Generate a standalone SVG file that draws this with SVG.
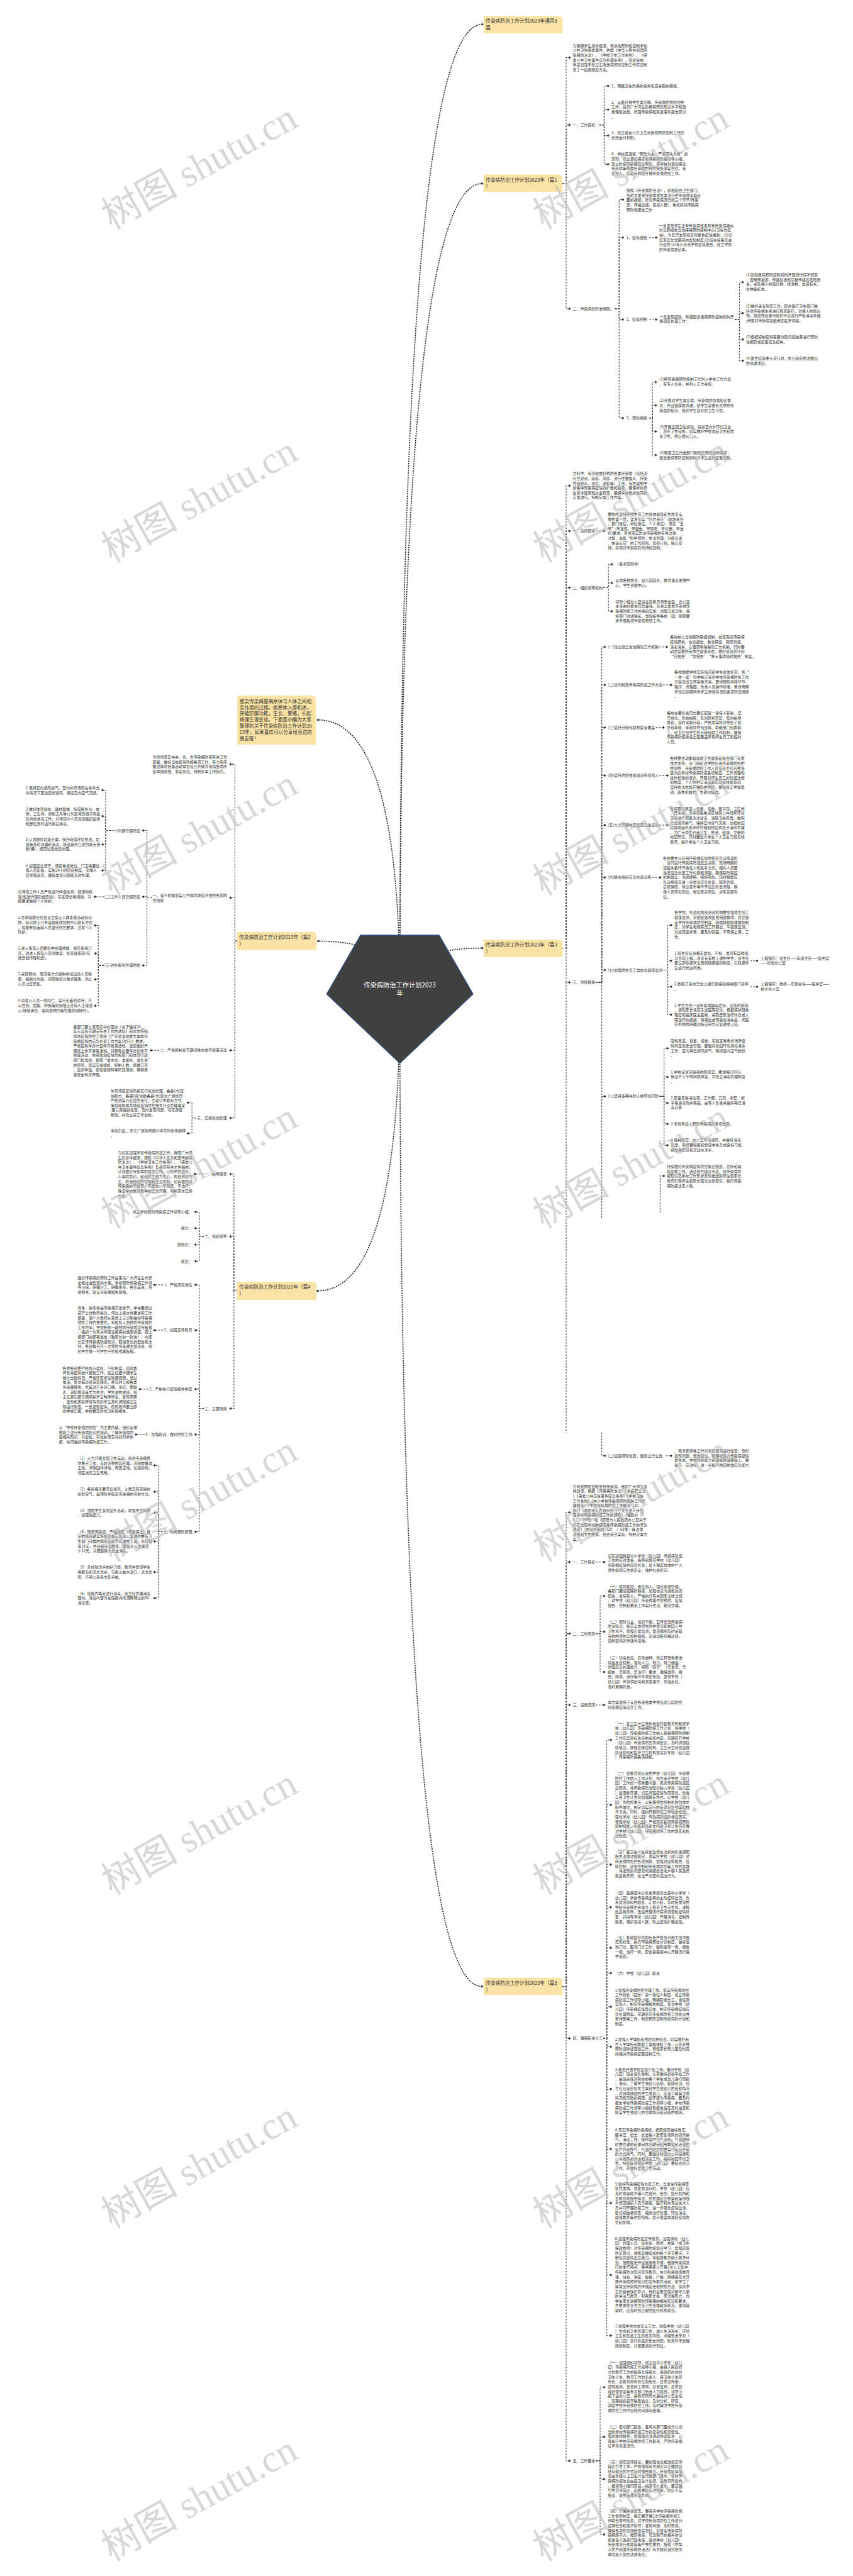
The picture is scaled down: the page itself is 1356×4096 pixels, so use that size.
<svg xmlns="http://www.w3.org/2000/svg" width="1356" height="4096" viewBox="0 0 1356 4096">
<defs>
<style>
text{font-family:"Noto Sans CJK SC","Liberation Sans",sans-serif;fill:#333;font-size:11.2px}
.lb{font-size:14.5px}
.sm{font-size:14.4px}
.ct{font-size:19.3px;fill:#fff;text-anchor:middle}
.e{text-anchor:end}
.c{fill:none;stroke:#333;stroke-width:2;stroke-dasharray:5 4}
.m{fill:none;stroke:#222;stroke-width:3;stroke-dasharray:4 3}
.box{fill:#FBE3A6}
.wm{font-family:"Liberation Serif","Noto Sans CJK SC",serif;font-size:115px;fill:#bdbdbd;fill-opacity:0.6}
</style>
<marker id="d" viewBox="-5 -5 10 10" markerWidth="9" markerHeight="9" markerUnits="userSpaceOnUse" orient="0"><path d="M-4.5 0L0 -4.5L4.5 0L0 4.5Z" fill="#333"/></marker>
</defs>
<rect width="1356" height="4096" fill="#fff"/>
<g transform="scale(0.5297)">
<g id="connectors" marker-end="url(#d)">
<path class="m" d="M1200 2990Q1200 73 1447 73"/>
<path class="m" d="M1200 2990Q1200 551 1447 551"/>
<path class="m" d="M1200 2990Q1200 2846 1447 2846"/>
<path class="m" d="M1200 2990Q1200 2161 954 2161"/>
<path class="m" d="M1200 2990Q1200 2825 955 2825"/>
<path class="m" d="M1200 2990Q1200 3875 953 3875"/>
<path class="m" d="M1200 2990Q1200 5963 1446 5963"/>
<path class="c" d="M1688 551H1699V173H1709"/>
<path class="c" d="M1688 551H1699V375H1709"/>
<path class="c" d="M1688 551H1699V927H1709"/>
<path class="c" d="M1799 375H1813V258H1825"/>
<path class="c" d="M1799 375H1813V329H1825"/>
<path class="c" d="M1799 375H1813V407H1825"/>
<path class="c" d="M1799 375H1813V493H1825"/>
<path class="c" d="M1846 927H1858V599H1869"/>
<path class="c" d="M1846 927H1858V713H1869"/>
<path class="c" d="M1846 927H1858V959H1869"/>
<path class="c" d="M1846 927H1858V1255H1869"/>
<path class="c" d="M1949 713H1969"/>
<path class="c" d="M1949 959H1969"/>
<path class="c" d="M2205 959H2219V847H2229"/>
<path class="c" d="M2205 959H2219V940H2229"/>
<path class="c" d="M2205 959H2219V1019H2229"/>
<path class="c" d="M2205 959H2219V1083H2229"/>
<path class="c" d="M1949 1255H1958V1147H1968"/>
<path class="c" d="M1949 1255H1958V1217H1968"/>
<path class="c" d="M1949 1255H1958V1295H1968"/>
<path class="c" d="M1949 1255H1958V1366H1968"/>
<path class="c" d="M1688 2846H1699V1458H1709"/>
<path class="c" d="M1688 2846H1699V1594H1709"/>
<path class="c" d="M1688 2846H1699V1764H1709"/>
<path class="c" d="M1688 2846H1699V2949H1709"/>
<path class="c" d="M1788 1594H1813"/>
<path class="c" d="M1811 1764H1826V1694H1836"/>
<path class="c" d="M1811 1764H1826V1750H1836"/>
<path class="c" d="M1811 1764H1826V1835H1836"/>
<path class="c" d="M1788 2949H1806V1942H1815"/>
<path class="c" d="M1788 2949H1806V2056H1815"/>
<path class="c" d="M1788 2949H1806V2184H1815"/>
<path class="c" d="M1788 2949H1806V2328H1815"/>
<path class="c" d="M1788 2949H1806V2477H1815"/>
<path class="c" d="M1788 2949H1806V2634H1815"/>
<path class="c" d="M1788 2949H1806V2912H1815"/>
<path class="c" d="M1788 2949H1806V3291H1815"/>
<path class="c" d="M1979 1942H2001"/>
<path class="c" d="M1990 2056H2014"/>
<path class="c" d="M1968 2184H1991"/>
<path class="c" d="M1979 2328H2003"/>
<path class="c" d="M1979 2477H2003"/>
<path class="c" d="M1957 2634H1981"/>
<path class="c" d="M1990 2912H2004V2777H2014"/>
<path class="c" d="M1990 2912H2004V2884H2014"/>
<path class="c" d="M1990 2912H2004V2962H2014"/>
<path class="c" d="M1990 2912H2004V3046H2014"/>
<path class="c" d="M2252 2884H2272"/>
<path class="c" d="M2252 2962H2272"/>
<path class="c" d="M1980 3291H1993V3147H2003"/>
<path class="c" d="M1980 3291H1993V3233H2003"/>
<path class="c" d="M1980 3291H1993V3311H2003"/>
<path class="c" d="M1980 3291H1993V3374H2003"/>
<path class="c" d="M1980 3291H1993V3438H2003"/>
<path class="c" d="M1981 3640V3530H1992"/>
<path class="c" d="M1806 4300V4370H1815"/>
<path class="c" d="M1999 4370H2014"/>
<path class="c" d="M1688 5963H1699V4540H1709"/>
<path class="c" d="M1688 5963H1699V4689H1709"/>
<path class="c" d="M1688 5963H1699V4904H1709"/>
<path class="c" d="M1688 5963H1699V5118H1709"/>
<path class="c" d="M1688 5963H1699V6119H1709"/>
<path class="c" d="M1688 5963H1699V7387H1709"/>
<path class="c" d="M1788 4689H1813"/>
<path class="c" d="M1788 5118H1813"/>
<path class="c" d="M1788 4904H1801V4791H1813"/>
<path class="c" d="M1788 4904H1801V4898H1813"/>
<path class="c" d="M1788 4904H1801V5019H1813"/>
<path class="c" d="M1811 6119H1821V5223H1833"/>
<path class="c" d="M1811 6119H1821V5418H1833"/>
<path class="c" d="M1811 6119H1821V5597H1833"/>
<path class="c" d="M1811 6119H1821V5725H1833"/>
<path class="c" d="M1811 6119H1821V5847H1833"/>
<path class="c" d="M1811 6119H1821V5923H1833"/>
<path class="c" d="M1811 6119H1821V6024H1833"/>
<path class="c" d="M1811 6119H1821V6144H1833"/>
<path class="c" d="M1811 6119H1821V6271H1833"/>
<path class="c" d="M1811 6119H1821V6451H1833"/>
<path class="c" d="M1811 6119H1821V6613H1833"/>
<path class="c" d="M1811 6119H1821V6829H1833"/>
<path class="c" d="M1811 6119H1821V7011H1833"/>
<path class="c" d="M1788 7387H1801V7166H1813"/>
<path class="c" d="M1788 7387H1801V7315H1813"/>
<path class="c" d="M1788 7387H1801V7442H1813"/>
<path class="c" d="M1788 7387H1801V7608H1813"/>
<path class="c" d="M711 2825H705V2294H692"/>
<path class="c" d="M711 2825H705V2695H692"/>
<path class="c" d="M711 2825H705V3153H692"/>
<path class="c" d="M711 2825H705V3356H692"/>
<path class="c" d="M456 2695H441V2493H430"/>
<path class="c" d="M456 2695H441V2692H430"/>
<path class="c" d="M456 2695H441V2898H430"/>
<path class="c" d="M333 2493H317V2372H308"/>
<path class="c" d="M333 2493H317V2450H308"/>
<path class="c" d="M333 2493H317V2535H308"/>
<path class="c" d="M333 2493H317V2613H308"/>
<path class="c" d="M311 2692H285"/>
<path class="c" d="M311 2898H295V2778H286"/>
<path class="c" d="M311 2898H295V2862H286"/>
<path class="c" d="M311 2898H295V2940H286"/>
<path class="c" d="M311 2898H295V3019H286"/>
<path class="c" d="M477 3153H453"/>
<path class="c" d="M589 3356H576V3310H564"/>
<path class="c" d="M589 3356H576V3402H564"/>
<path class="c" d="M711 3875H702V3524H692"/>
<path class="c" d="M711 3875H702V3712H692"/>
<path class="c" d="M711 3875H702V4228H692"/>
<path class="c" d="M611 3524H585"/>
<path class="c" d="M611 3712H598V3638H587"/>
<path class="c" d="M611 3712H598V3687H587"/>
<path class="c" d="M611 3712H598V3736H587"/>
<path class="c" d="M611 3712H598V3786H587"/>
<path class="c" d="M611 4228H598V3857H587"/>
<path class="c" d="M611 4228H598V3993H587"/>
<path class="c" d="M611 4228H598V4170H587"/>
<path class="c" d="M611 4228H598V4306H587"/>
<path class="c" d="M611 4228H598V4598H587"/>
<path class="c" d="M489 3857H464"/>
<path class="c" d="M489 3993H464"/>
<path class="c" d="M445 4170H420"/>
<path class="c" d="M434 4306H408"/>
<path class="c" d="M489 4598H475V4399H464"/>
<path class="c" d="M489 4598H475V4478H464"/>
<path class="c" d="M489 4598H475V4541H464"/>
<path class="c" d="M489 4598H475V4627H464"/>
<path class="c" d="M489 4598H475V4719H464"/>
<path class="c" d="M489 4598H475V4797H464"/>
</g>
<g id="trunks">
<path class="c" d="M1699 2949V4300"/>
<path class="c" d="M1806 3291V3660"/>
</g>
<g id="node-center">
<polygon points="1082,2807 1318,2807 1420,2984 1200,3192 980,2984" fill="#404040" stroke="#2E5597" stroke-width="2"/>
<text class="ct" x="1200" y="2964">传染病防治工作计划2023</text>
<text class="ct" x="1200" y="2989">年</text>
</g>
<g id="node-all">
<path class="box" d="M1451 48H1681L1688 55V100H1451Z"/>
<text class="lb" x="1458" y="68">传染病防治工作计划2023年通用5</text>
<text class="lb" x="1458" y="88">篇</text>
</g>
<g id="node-summary">
<path class="box" d="M712 2088H941L948 2095V2235H712Z"/>
<text class="sm" x="719" y="2110">感染传染病是病原体与人体之间相<tspan x="719" dy="18.6">互作用的过程。病原体入侵机体，</tspan><tspan x="719" dy="18.6">突破防御功能，生长、繁殖，引起</tspan><tspan x="719" dy="18.6">病理生理变化。下面是小编为大家</tspan><tspan x="719" dy="18.6">整理的关于传染病防治工作计划20</tspan><tspan x="719" dy="18.6">23年，如果喜欢可以分享给身边的</tspan><tspan x="719" dy="18.6">朋友喔！</tspan></text>
</g>
<g id="node-p1">
<path class="box" d="M1451 524H1681L1688 531V576H1451Z"/>
<text class="lb" x="1458" y="545">传染病防治工作计划2023年（篇1</text>
<text class="lb" x="1458" y="565">）</text>
<text x="1719" y="141">为确保学生身体健康，有效地预防和控制学校<tspan x="1719" dy="14.4">公共卫生突发事件，依据《中华人民共和国传</tspan><tspan x="1719" dy="14.4">染病防治法》、《学校卫生工作条例》、《突</tspan><tspan x="1719" dy="14.4">发公共卫生事件应急处理条例》，现就我校</tspan><tspan x="1719" dy="14.4">年度加强学校卫生及疾病预防控制工作意见制</tspan><tspan x="1719" dy="14.4">定了一些措施及方案。</tspan></text>
<text x="1719" y="379">一、工作目标：</text>
<text x="1835" y="262">1、明确卫生防病的任务和应采取的措施。</text>
<text x="1835" y="311">2、全面开展学生常见病、传染病的预防控制<tspan x="1835" dy="14.4">工作，提高广大师生的疾病预防知识水平和自</tspan><tspan x="1835" dy="14.4">我保健技能，增强传染病和突发事件报告意识</tspan><tspan x="1835" dy="14.4">。</tspan></text>
<text x="1835" y="402">3、建立健全公共卫生与疾病预防控制工作的<tspan x="1835" dy="14.4">长效运行机制。</tspan></text>
<text x="1835" y="467">4、学校应遵循“预防为主，严堵源头为重”的<tspan x="1835" dy="14.4">原则，成立诺如病毒等传染病防控领导小组，</tspan><tspan x="1835" dy="14.4">建立防控传染病应急预案，使学校对诺如病毒</tspan><tspan x="1835" dy="14.4">传染病等各类传染病的预防措施落实到位，责</tspan><tspan x="1835" dy="14.4">任到人，切实有效地开展传染病防控工作。</tspan></text>
<text x="1719" y="931">二、传染病的防治措施：</text>
<text x="1880" y="576">按照《传染病防治法》，积极配合卫生部门，<tspan x="1880" dy="14.4">及时对发现传染病或暴发流行的传染病采取必</tspan><tspan x="1880" dy="14.4">要的措施，针对传染病流行的三个环节(传染</tspan><tspan x="1880" dy="14.4">源、传播途径、易感人群)，重点抓好传染病</tspan><tspan x="1880" dy="14.4">预防和报告工作</tspan></text>
<text x="1880" y="717">1、疫情报告</text>
<text x="1978" y="681">一旦发现师生患有传染病或发现有传染病疑似<tspan x="1978" dy="14.4">时立即报告当地疾病预防控制中心(卫生防疫</tspan><tspan x="1978" dy="14.4">站)。为及早发现和及时报告疫情做到：(1)切</tspan><tspan x="1978" dy="14.4">实落实非常期间的晨检制度;(2)班主任每天进</tspan><tspan x="1978" dy="14.4">行巡视;(3)专人负责学校疫情报告，建立学校</tspan><tspan x="1978" dy="14.4">的传染病登记本。</tspan></text>
<text x="1880" y="963">2、疫情控制</text>
<text x="1979" y="955">一旦发现疫情，积极配合疾病预防控制机构开<tspan x="1979" dy="14.4">展调查处理工作：</tspan></text>
<text x="2239" y="829">(1)协助疾病预防控制机构开展流行病学调查<tspan x="2239" dy="14.4">，查明传染源、传播途径和引起传播的危险因</tspan><tspan x="2239" dy="14.4">素。采集病人的呕吐物、排泄物、血液和水、</tspan><tspan x="2239" dy="14.4">食物等标本。</tspan></text>
<text x="2239" y="923">(2)做好消毒隔离工作。配合医疗卫生部门做<tspan x="2239" dy="14.4">好对传染病患者进行隔离医疗，对病人的呕吐</tspan><tspan x="2239" dy="14.4">物、排泄物及被污染的环境进行严格消毒处理</tspan><tspan x="2239" dy="14.4">;开展对传染病接触者的医学观察。</tspan></text>
<text x="2239" y="1016">(3)根据控制疫情需要对密切接触者进行预防<tspan x="2239" dy="14.4">性服药或疫苗应急接种。</tspan></text>
<text x="2239" y="1080">(4)发生疫情重大流行时，执行政府依法做出<tspan x="2239" dy="14.4">的停课决定。</tspan></text>
<text x="1880" y="1259">3、预防措施</text>
<text x="1979" y="1143">(1)把传染病预防控制工作列入学校工作方案<tspan x="1979" dy="14.4">，有专人负责，并列入工作考核。</tspan></text>
<text x="1979" y="1207">(2)开展对学生常见病、传染病的防病知识教<tspan x="1979" dy="14.4">育，开设健康教育课，使学生掌握有关预防传</tspan><tspan x="1979" dy="14.4">染病的知识，培养学生良好的卫生习惯。</tspan></text>
<text x="1979" y="1285">(3)开展爱国卫生运动，搞好室内外环境卫生<tspan x="1979" dy="14.4">，改善卫生设施，切实做好学校食品卫生和饮</tspan><tspan x="1979" dy="14.4">水卫生，防止病从口入。</tspan></text>
<text x="1979" y="1363">(4)根据卫生行政部门制定的预防接种程序，<tspan x="1979" dy="14.4">配合疾病预防控制机构对学生进行疫苗接种。</tspan></text>
</g>
<g id="node-p3">
<path class="box" d="M1451 2821H1681L1688 2828V2873H1451Z"/>
<text class="lb" x="1458" y="2842">传染病防治工作计划2023年（篇3</text>
<text class="lb" x="1458" y="2862">）</text>
<text x="1719" y="1426">为科学、有序地做好预防各类传染病（包括流<tspan x="1719" dy="14.4">行性感冒、麻疹、风疹、流行性腮腺炎、传染</tspan><tspan x="1719" dy="14.4">性结膜炎、水痘、诺如等）工作，有效遏制学</tspan><tspan x="1719" dy="14.4">校各种传染病疫情的扩散和蔓延，确保学校师</tspan><tspan x="1719" dy="14.4">生身体健康和社会稳定，确保学校教学秩序的</tspan><tspan x="1719" dy="14.4">正常进行，特制定本工作方案。</tspan></text>
<text x="1719" y="1598">一、总体要求</text>
<text x="1824" y="1548">要始终坚持把师生员工的身体健康和生命安全<tspan x="1824" dy="14.4">放在第一位，坚决压实“四方责任”(属地责任</tspan><tspan x="1824" dy="14.4">、部门责任、单位责任、个人责任)，落实“五</tspan><tspan x="1824" dy="14.4">早”(早发现、早报告、早隔离、早诊断、早治</tspan><tspan x="1824" dy="14.4">疗)要求。贯彻落实防治传染病的有关法律、</tspan><tspan x="1824" dy="14.4">法规，本着“科学预防、依法管理、分级负责</tspan><tspan x="1824" dy="14.4">、快速反应”的工作原则，周密计划，精心安</tspan><tspan x="1824" dy="14.4">排，实现对传染病的可持续控制。</tspan></text>
<text x="1719" y="1768">二、组织领导机构</text>
<text x="1847" y="1698">（名单见附件）</text>
<text x="1847" y="1747">全旗各校校长、幼儿园园长、教育事业发展中<tspan x="1847" dy="14.4">心、学生资助中心。</tspan></text>
<text x="1847" y="1810">领导小组办公室设在旗教育局安全股，办公室<tspan x="1847" dy="14.4">主任由刘扬生同志兼任。负责全旗教育系统传</tspan><tspan x="1847" dy="14.4">染病防控工作的组织实施，加强与旗卫生、疾</tspan><tspan x="1847" dy="14.4">控部门沟通联系，督促指导各校（园）按照要</tspan><tspan x="1847" dy="14.4">求开展各项传染病预防工作。</tspan></text>
<text x="1719" y="2953">三、防控措施</text>
<text x="1824" y="1946">(一)建立健全属地联动工作机制</text>
<text x="2011" y="1917">各校纳入当地联防联控机制，前置完善传染病<tspan x="2011" dy="14.4">疫情研判、信息报送、救治转运、隔离管控、</tspan><tspan x="2011" dy="14.4">消毒消杀、心理疏导等联动工作机制。同时要</tspan><tspan x="2011" dy="14.4">动态掌握所有师生健康状态，做好值班值守和</tspan><tspan x="2011" dy="14.4">“日报告”“零报告”“重大事项随时报告”制度。</tspan></text>
<text x="1824" y="2060">(二)协同制定传染病防控工作方案</text>
<text x="2024" y="2022">各校根据学校实际情况和学生总体状况，按“<tspan x="2024" dy="14.4">一校一案”科学制订完善学校传染病防控工作</tspan><tspan x="2024" dy="14.4">方案及应急预案等方案，要详细到具体环节、</tspan><tspan x="2024" dy="14.4">程序、流程图、负责人及操作标准，重点明确</tspan><tspan x="2024" dy="14.4">学校在校期间有学生异常情况的各项防控措施</tspan><tspan x="2024" dy="14.4">。</tspan></text>
<text x="1824" y="2188">(三)坚持分级包联制度全覆盖</text>
<text x="2001" y="2145">各校主要负责同志要扛起第一责任人职责，坚<tspan x="2001" dy="14.4">守岗位、靠前指挥，及时研判形势，及时指导</tspan><tspan x="2001" dy="14.4">督查，及时采取行动。严格落实校领导班子成</tspan><tspan x="2001" dy="14.4">员包年级、年级领导包班级、职能部门包教职</tspan><tspan x="2001" dy="14.4">工、班主任包学生的分级包联工作机制，确保</tspan><tspan x="2001" dy="14.4">传染病防控责任全面覆盖所有师生员工和临时</tspan><tspan x="2001" dy="14.4">人员。</tspan></text>
<text x="1824" y="2332">(四)坚持防控技能培训到位到人</text>
<text x="2011" y="2281">各校要主动争取属地卫生健康和疾控部门专家<tspan x="2011" dy="14.4">技术支持，专门组织对学校负责传染病防控的</tspan><tspan x="2011" dy="14.4">校领导、传染病防控工作人员及班主任开展多</tspan><tspan x="2011" dy="14.4">层次的学校传染病防控各项制度、工作流程和</tspan><tspan x="2011" dy="14.4">操作标准的培训，开展对师生员工的防控法规</tspan><tspan x="2011" dy="14.4">和制度、个人防护与消毒等知识和技能培训，</tspan><tspan x="2011" dy="14.4">坚持依法依规开展科学防控，做到真正学懂弄</tspan><tspan x="2011" dy="14.4">通，避免机械式、生硬化操作。</tspan></text>
<text x="1824" y="2481">(五)大力开展校园爱国卫生运动</text>
<text x="2011" y="2431">各校要对教室、食堂、宿舍、图书馆、卫生间<tspan x="2011" dy="14.4">、开水间、洗手间等重点区域和公共场所环境</tspan><tspan x="2011" dy="14.4">卫生进行彻底清洁消毒，消除卫生死角。做到</tspan><tspan x="2011" dy="14.4">日常通风换气，保持室内空气流通，加强校园</tspan><tspan x="2011" dy="14.4">垃圾收运处置闭环管理和校园快递点消杀管理</tspan><tspan x="2011" dy="14.4">，为广大师生创造卫生、整洁、健康、文明的</tspan><tspan x="2011" dy="14.4">校园环境。同时要加大学生个人卫生习惯养成</tspan><tspan x="2011" dy="14.4">教育，提升学生个人卫生习惯。</tspan></text>
<text x="1824" y="2638">(六)联合组织应急处置演练</text>
<text x="1990" y="2580">各校要充分利用传染病疫情防控应急演练契机<tspan x="1990" dy="14.4">，协同进行传染病防控应急演练，现场明确防</tspan><tspan x="1990" dy="14.4">控链条各环节责任人和联系方式。相关人员要</tspan><tspan x="1990" dy="14.4">熟悉应急处置工作内容和流程，确保联防联控</tspan><tspan x="1990" dy="14.4">机制健全、沟通顺畅、措施到位。同时根据应</tspan><tspan x="1990" dy="14.4">急演练情况进一步优化应急处置、隔离管控、</tspan><tspan x="1990" dy="14.4">后勤保障、信息发布等环节应急处置流程，确</tspan><tspan x="1990" dy="14.4">保人员落实到位、责任落实到位、演练掌握到</tspan><tspan x="1990" dy="14.4">位。</tspan></text>
<text x="1824" y="2916">(七)加强师生员工常态化健康监测</text>
<text x="2024" y="2744">各学校、托幼机构及培训机构要加强师生员工<tspan x="2024" dy="14.4">健康监测，足额配备校医或保健教师，建立健</tspan><tspan x="2024" dy="14.4">全学校传染病防控制度、因病缺勤缺课跟踪制</tspan><tspan x="2024" dy="14.4">度，对学生和教职员工开展晨、午健康监测。</tspan><tspan x="2024" dy="14.4">对出现症状者，要及时就医，不带病上课、工</tspan><tspan x="2024" dy="14.4">作。</tspan></text>
<text x="2024" y="2866">1.班主任负责每天晨检、午检，发现有异样情<tspan x="2024" dy="14.4">况立刻上报。对没有来校上课的学生，班主任</tspan><tspan x="2024" dy="14.4">要立即依据学生因病缺课追踪制度，对缺课学</tspan><tspan x="2024" dy="14.4">生进行状态问询。</tspan></text>
<text x="2283" y="2880">上报程序：班主任——年部主任——医务室<tspan x="2283" dy="14.4">——校长办公室</tspan></text>
<text x="2024" y="2959">2.教职工身体异常上报年部组和相关部门领导<tspan x="2024" dy="14.4">。</tspan></text>
<text x="2283" y="2959">上报程序：教师---年部主任——医务室——<tspan x="2283" dy="14.4">校长办公室</tspan></text>
<text x="2024" y="3022">3.学生在校一旦传染病疑似症状，应及时隔离<tspan x="2024" dy="14.4">，通知家长将孩子送医院就诊，根据病情轻重</tspan><tspan x="2024" dy="14.4">程度和临床医生医嘱，采取居家治疗休息或入</tspan><tspan x="2024" dy="14.4">院治疗的措施，待病愈或传染性消失后，凭医</tspan><tspan x="2024" dy="14.4">疗机构的明确诊断证明方可复课或上班。</tspan></text>
<text x="1824" y="3295">(八)坚持多病共防人物环境同防</text>
<text x="2013" y="3129">强化教室、食堂、宿舍、实验室等重点场所疫<tspan x="2013" dy="14.4">情防控及安全管理，要做好校园环境消毒消杀</tspan><tspan x="2013" dy="14.4">工作，室内每日通风换气，保持室内空气新鲜</tspan><tspan x="2013" dy="14.4">。</tspan></text>
<text x="2013" y="3222">1.学校设置足够用的隔离室，要求每1000人<tspan x="2013" dy="14.4">保证不少于两间隔离室，并建立消毒管理制度</tspan><tspan x="2013" dy="14.4">。</tspan></text>
<text x="2013" y="3300">2.配备足够消毒液、工作服、口罩、手套、帽<tspan x="2013" dy="14.4">子等消毒防护用品，由专人负责并做好每日消</tspan><tspan x="2013" dy="14.4">毒记录</tspan></text>
<text x="2013" y="3378">3.学校有投入预防传染病的专项经费。</text>
<text x="2013" y="3427">4.保持教室、办公室环境通风，并做好消毒<tspan x="2013" dy="14.4">记录。教师要提醒和督促学生养成良好习惯，</tspan><tspan x="2013" dy="14.4">经常用肥皂和流动水洗手。</tspan></text>
<text x="2001" y="3506">持续做好传染病疫情防控信息报送、宣传和舆<tspan x="2001" dy="14.4">情监督工作。通过现代信息手段，将传染病防</tspan><tspan x="2001" dy="14.4">控知识及学校工作安排及时推送到师生和家长</tspan><tspan x="2001" dy="14.4">教育引导师生和家长强化法律意识，履行传染</tspan><tspan x="2001" dy="14.4">病防控法定义务。</tspan></text>
<text x="1824" y="4374">(二)加强督导检查，做到立行立改</text>
<text x="2024" y="4359">、教学安排等工作对学校逐项进行检查，及时<tspan x="2024" dy="14.4">发现问题，整改到位。确保校园内传染病疫情</tspan><tspan x="2024" dy="14.4">发生后，学校防控能力和措施能够跟得上、展</tspan><tspan x="2024" dy="14.4">得开、应对好，进一步提升校园整体应急能力</tspan><tspan x="2024" dy="14.4">。</tspan></text>
</g>
<g id="node-p5">
<path class="box" d="M1451 5937H1681L1688 5944V5989H1451Z"/>
<text class="lb" x="1458" y="5958">传染病防治工作计划2023年（篇5</text>
<text class="lb" x="1458" y="5978">）</text>
<text x="1719" y="4466">为有效预防控制学校传染病，维护广大师生身<tspan x="1719" dy="14.4">体健康，根据《传染病防治法》《食品安全法</tspan><tspan x="1719" dy="14.4">》《突发公共卫生事件应急条例》《学校卫生</tspan><tspan x="1719" dy="14.4">工作条例》《中小学校传染病预防控制工作管</tspan><tspan x="1719" dy="14.4">理规范》《学校结核病防控工作规范（20__</tspan><tspan x="1719" dy="14.4">版）》《湖南省人民政府办公厅关于进一步加</tspan><tspan x="1719" dy="14.4">强学校传染病防控工作的通知》（湘政办〔2</tspan><tspan x="1719" dy="14.4">0__〕99号）和《邵阳市人民政府办公室关于</tspan><tspan x="1719" dy="14.4">切实加强学校肺结核等传染病防控工作的紧急</tspan><tspan x="1719" dy="14.4">通知》（市政办明电〔20__〕68号）等法律</tspan><tspan x="1719" dy="14.4">法规和文件要求，结合我县实际，特制定本方</tspan><tspan x="1719" dy="14.4">案。</tspan></text>
<text x="1719" y="4693">一、工作目标</text>
<text x="1824" y="4674">切实加强我县中小学校（幼儿园）传染病防控<tspan x="1824" dy="14.4">工作的应对准备，指导和规范学校（幼儿园）</tspan><tspan x="1824" dy="14.4">传染病疫情的应急处置，最大程度地维护广大</tspan><tspan x="1824" dy="14.4">师生健康与生命安全，维护社会稳定。</tspan></text>
<text x="1719" y="4908">二、工作原则</text>
<text x="1824" y="4766">（一）联防联控，责任到人。强化属地管理，<tspan x="1824" dy="14.4">各部门要加强联防联控，加强信息沟通和协调</tspan><tspan x="1824" dy="14.4">配合，责任到人。严格执行有关国家法律法规</tspan><tspan x="1824" dy="14.4">，对学校（幼儿园）传染病事件的预防、疫情</tspan><tspan x="1824" dy="14.4">报告、控制和救治工作实行依法、规范管理。</tspan></text>
<text x="1824" y="4872">（二）预防为主，常抓不懈。宣传普及传染病<tspan x="1824" dy="14.4">防治知识，提高全体师生防护意识和校园公共</tspan><tspan x="1824" dy="14.4">卫生水平，加强日常监测，发现病例及时采取</tspan><tspan x="1824" dy="14.4">有效的预防与控制措施，迅速切断传播途径，</tspan><tspan x="1824" dy="14.4">控制疫情的传播与蔓延。</tspan></text>
<text x="1824" y="4980">（三）快速反应，高效运转。建立预警和救治<tspan x="1824" dy="14.4">快速反应机制，强化人力、物力、财力储备，</tspan><tspan x="1824" dy="14.4">增强应急处理能力。按照“四早”（早发现、早</tspan><tspan x="1824" dy="14.4">报告、早隔离、早治疗）要求，确保发现、报</tspan><tspan x="1824" dy="14.4">告、隔离、治疗等环节紧密衔接，发现学校（</tspan><tspan x="1824" dy="14.4">幼儿园）传染病疫情和突发事件，快速反应，</tspan><tspan x="1824" dy="14.4">及时准确处置。</tspan></text>
<text x="1719" y="5122">三、适用范围</text>
<text x="1824" y="5115">本方案适用于全县各级各类学校及幼儿园防控<tspan x="1824" dy="14.4">传染病疫情应急工作。</tspan></text>
<text x="1719" y="6123">四、确保职责分工</text>
<text x="1846" y="5178">（一）县卫生计生局负责会同县教育局制定学<tspan x="1846" dy="14.4">校（幼儿园）传染病防控工作计划，将学校（</tspan><tspan x="1846" dy="14.4">幼儿园）传染病防控工作纳入县疾病预防控制</tspan><tspan x="1846" dy="14.4">工作年度目标责任制考核内容，定期召开学校</tspan><tspan x="1846" dy="14.4">（幼儿园）传染病防控协调会议，及时通报疫</tspan><tspan x="1846" dy="14.4">情信息，督促县疾控机构、卫生计生综合监督</tspan><tspan x="1846" dy="14.4">执法机构和医疗卫生机构落实好学校（幼儿园</tspan><tspan x="1846" dy="14.4">）传染病防控各项措施。</tspan></text>
<text x="1846" y="5328">（二）县教育局负责把学校（幼儿园）传染病<tspan x="1846" dy="14.4">防控工作纳入工作计划，作为考评学校（幼儿</tspan><tspan x="1846" dy="14.4">园）工作的一项重要内容，完善传染病防控应</tspan><tspan x="1846" dy="14.4">急预案，将传染病防治知识纳入学校（幼儿园</tspan><tspan x="1846" dy="14.4">）健康教育课，切实增强疫情防范意识。负责</tspan><tspan x="1846" dy="14.4">与县卫生计生局加强联系协作，以学校（幼儿</tspan><tspan x="1846" dy="14.4">园）为防控重点，以疾病预防控制机构为技术</tspan><tspan x="1846" dy="14.4">指导单位，制定切实可行的专项应急预案和技</tspan><tspan x="1846" dy="14.4">术方案。同时，组织开展防控工作联合检查，</tspan><tspan x="1846" dy="14.4">强化学校（幼儿园）传染病防控的责任落实，</tspan><tspan x="1846" dy="14.4">督促学校（幼儿园）严格落实各项传染病预防</tspan><tspan x="1846" dy="14.4">控制措施。积极配合和支持县卫生计生局开展</tspan><tspan x="1846" dy="14.4">对学校（幼儿园）传染病防控工作的督查和执</tspan><tspan x="1846" dy="14.4">法检查。</tspan></text>
<text x="1846" y="5563">（三）县卫生计生综合监督执法机构负责按照<tspan x="1846" dy="14.4">相关法律法规规定，落实好学校（幼儿园）对</tspan><tspan x="1846" dy="14.4">传染病防控的各项措施，加强对疫情报告、疫</tspan><tspan x="1846" dy="14.4">情控制、感染控制和传染病防控等工作的监督</tspan><tspan x="1846" dy="14.4">，将发现的问题及时通报给当地乡镇人民政府</tspan><tspan x="1846" dy="14.4">和县教育局，依法严肃查处违法行为。</tspan></text>
<text x="1846" y="5686">（四）县疾控中心负责承担对全县中小学校（<tspan x="1846" dy="14.4">幼儿园）学龄传染病患者的主动疫情监测，负</tspan><tspan x="1846" dy="14.4">责监测资料的收集、汇总分析，及时将发现的</tspan><tspan x="1846" dy="14.4">学龄传染病患者信息上报县卫生计生局，通报</tspan><tspan x="1846" dy="14.4">给县教育局，迅速开展流行病学调查和疫情处</tspan><tspan x="1846" dy="14.4">置，并指导学校（幼儿园）开展消毒，控制传</tspan><tspan x="1846" dy="14.4">染源，保护易感人群，防止疫情扩散蔓延。</tspan></text>
<text x="1846" y="5820">（五）各级医疗机构负责严格执行相关技术规<tspan x="1846" dy="14.4">范和标准，执行传染病预检分诊制度，做好发</tspan><tspan x="1846" dy="14.4">热门诊、腹泻门诊工作，做到发现一例、报告</tspan><tspan x="1846" dy="14.4">一例、治疗一例，配合县疾控中心开展流行病</tspan><tspan x="1846" dy="14.4">学调查。</tspan></text>
<text x="1846" y="5927">（六）学校（幼儿园）职责</text>
<text x="1846" y="5978">1.加强传染病防控管理工作。落实传染病防控<tspan x="1846" dy="14.4">工作校长（园长）第一责任人制度，成立传染</tspan><tspan x="1846" dy="14.4">病防控工作领导小组，明确职责分工，责任落</tspan><tspan x="1846" dy="14.4">实到人，制定传染病报告制度，建立学校（幼</tspan><tspan x="1846" dy="14.4">儿园）传染病疫情登记本，制定传染病疫情应</tspan><tspan x="1846" dy="14.4">急处理预案。定期召开传染病防控工作会议并</tspan><tspan x="1846" dy="14.4">安排部署工作，制定预防控制传染病的计划和</tspan><tspan x="1846" dy="14.4">制度。</tspan></text>
<text x="1846" y="6126">2.加强入学体检和预防接种检查。切实做好新<tspan x="1846" dy="14.4">生入学体检和教职工常规体检工作，认真开展</tspan><tspan x="1846" dy="14.4">预防接种证查验工作，督促家长带儿童及时完</tspan><tspan x="1846" dy="14.4">成相关传染病疫苗接种工作。</tspan></text>
<text x="1846" y="6216">3.规范开展学校晨检午检工作。推行学校（幼<tspan x="1846" dy="14.4">儿园）班主任负责制，认真做好晨检午检工作</tspan><tspan x="1846" dy="14.4">，由班主任对到校的每个学生或幼儿进行观察</tspan><tspan x="1846" dy="14.4">、询问，了解学生或幼儿出勤、健康状况。班</tspan><tspan x="1846" dy="14.4">主任应当密切关注本班学生或幼儿的出勤情况</tspan><tspan x="1846" dy="14.4">，对因病缺勤的学生或幼儿，应当了解其患病</tspan><tspan x="1846" dy="14.4">情况和可能的病因，如怀疑为传染病，要及时</tspan><tspan x="1846" dy="14.4">报告学校传染病防控工作领导小组，学校传染</tspan><tspan x="1846" dy="14.4">病防控工作领导小组接到报告后应及时追查和</tspan><tspan x="1846" dy="14.4">核实学生或幼儿的患病情况和可能的病因。</tspan></text>
<text x="1846" y="6398">4.落实传染病防控措施。按照规定做好教室、<tspan x="1846" dy="14.4">图书室、宿舍、食堂等人群聚集场所的通风换</tspan><tspan x="1846" dy="14.4">气、消毒工作，保持室内空气清新。气温较低</tspan><tspan x="1846" dy="14.4">时要在课前和课间休息期间利用教室和走廊的</tspan><tspan x="1846" dy="14.4">窗户开窗换气，气温回暖后则要实行全日开窗</tspan><tspan x="1846" dy="14.4">的方式换气。同时，要做好校园内公共设施和</tspan><tspan x="1846" dy="14.4">公共用具的清洁和消毒工作。搞好校园环境卫</tspan><tspan x="1846" dy="14.4">生。特别是县城区学校（幼儿园）要结合创卫</tspan><tspan x="1846" dy="14.4">工作，开展好爱国卫生活动。</tspan></text>
<text x="1846" y="6560">5.做好传染病疫情处置工作。当发生传染病聚<tspan x="1846" dy="14.4">集性发病、暴发或流行时，学校（幼儿园）应</tspan><tspan x="1846" dy="14.4">及时向当地乡镇人民政府、疾控、医疗机构和</tspan><tspan x="1846" dy="14.4">县教育局报告情况，并依据应急预案和操作技</tspan><tspan x="1846" dy="14.4">术规范组织人员与疾控、医疗机构专业技术人</tspan><tspan x="1846" dy="14.4">员共同开展防控工作。进一步强化疫情监测、</tspan><tspan x="1846" dy="14.4">密切接触者筛查、病例治疗管理、环境消毒、</tspan><tspan x="1846" dy="14.4">健康教育等防控措施，最大限度地减轻疫情危</tspan><tspan x="1846" dy="14.4">害和影响。</tspan></text>
<text x="1846" y="6724">6.加强传染病防控宣传教育。加强学校（幼儿<tspan x="1846" dy="14.4">园）管理人员、班主任、教师、校医（或卫生</tspan><tspan x="1846" dy="14.4">保健教师）对传染病防控知识学习，增强疫情</tspan><tspan x="1846" dy="14.4">防范意识，熟练掌握疫情的各个环节要点，不</tspan><tspan x="1846" dy="14.4">断提高疫情应急能力。将健康教育纳入教学计</tspan><tspan x="1846" dy="14.4">划，按照规定开设健康教育课，根据传染病流</tspan><tspan x="1846" dy="14.4">行的季节特点，每学期至少开展2次以上集中</tspan><tspan x="1846" dy="14.4">传染病防治知识宣传教育。充分利用健康教育</tspan><tspan x="1846" dy="14.4">课、班会、讲座、板报、广播、网络等形式开</tspan><tspan x="1846" dy="14.4">展传染病预防知识的宣传教育活动，使学生了</tspan><tspan x="1846" dy="14.4">解常见传染病的传播途径和预防方法，提高学</tspan><tspan x="1846" dy="14.4">生的自我保护意识。特别是要加强对留守儿童</tspan><tspan x="1846" dy="14.4">的关注与教育，利用家长会、家访等形式，向</tspan><tspan x="1846" dy="14.4">学生家长讲解预防传染病的相关知识和要求，</tspan><tspan x="1846" dy="14.4">并要求家长关注孩子的身体健康状况，发现异</tspan><tspan x="1846" dy="14.4">常时，应及时到正规的医疗机构就诊。</tspan></text>
<text x="1846" y="6987">7.加强学校饮食安全工作。加强学校（幼儿园<tspan x="1846" dy="14.4">）饮食和卫生管理工作，减少生活用水、环境</tspan><tspan x="1846" dy="14.4">卫生和食品卫生的危害风险。清理整治学校（</tspan><tspan x="1846" dy="14.4">幼儿园）食材食品的安全问题，制定科学合理</tspan><tspan x="1846" dy="14.4">措施制度，并按要求执行到位。</tspan></text>
<text x="1719" y="7391">五、工作要求</text>
<text x="1824" y="7096">（一）加强组织领导。成立县中小学校（幼儿<tspan x="1824" dy="14.4">园）传染病防控工作领导小组，由县人民政府</tspan><tspan x="1824" dy="14.4">分管教育工作的副县长任组长，县政府办协管</tspan><tspan x="1824" dy="14.4">卫生计生、教育工作的负责人、县卫生计生局</tspan><tspan x="1824" dy="14.4">局长、县教育局局长任副组长，县委宣传部、</tspan><tspan x="1824" dy="14.4">县财政局、县食药工质局、县安监局、县委县</tspan><tspan x="1824" dy="14.4">政府督查室等有关部门负责人为成员。领导小</tspan><tspan x="1824" dy="14.4">组下设办公室，县教育局局长兼任办公室主任</tspan><tspan x="1824" dy="14.4">。定期组织召开联席会议，及时分析、研究、</tspan><tspan x="1824" dy="14.4">调度学校传染病防控工作，及时解决学校传染</tspan><tspan x="1824" dy="14.4">病防控工作中出现的问题与困难。</tspan></text>
<text x="1824" y="7289">（二）密切部门配合。各有关部门要充分认识<tspan x="1824" dy="14.4">当前学校传染病防控工作的复杂性和紧迫性，</tspan><tspan x="1824" dy="14.4">强化联防联控，加强信息沟通和协调配合，认</tspan><tspan x="1824" dy="14.4">真履行学校传染病防控工作职责，严防传染病</tspan><tspan x="1824" dy="14.4">在学校暴发流行。</tspan></text>
<text x="1824" y="7394">（三）规范宣传舆论。要加强信息报送和宣传<tspan x="1824" dy="14.4">舆论引导工作，严格按照有关规定以正确的途</tspan><tspan x="1824" dy="14.4">径与规范的方式及时报告信息。传染病疫情信</tspan><tspan x="1824" dy="14.4">息由省级以上卫生计生行政部门发布，学校传</tspan><tspan x="1824" dy="14.4">染病防控信息由县卫生计生局、县教育局会商</tspan><tspan x="1824" dy="14.4">，报领导小组同意后，指定专人发布。要正确</tspan><tspan x="1824" dy="14.4">引导宣传舆论，积极做好应对措施，防止不实</tspan><tspan x="1824" dy="14.4">报道，避免造成负面影响。</tspan></text>
<text x="1824" y="7542">（四）开展联合督查。要完善学校传染病防控<tspan x="1824" dy="14.4">工作督导制度，每年要开展2次传染病防控工</tspan><tspan x="1824" dy="14.4">作联合督导检查，对学校传染病防控工作进行</tspan><tspan x="1824" dy="14.4">监督检查和技术指导，发现问题，及时整改，</tspan><tspan x="1824" dy="14.4">确保各项防控措施落实到位。对落实传染病防</tspan><tspan x="1824" dy="14.4">控措施不力、推卸责任、玩忽职守的相关单位</tspan><tspan x="1824" dy="14.4">和责任人追究行政责任，造成学校（幼儿园）</tspan><tspan x="1824" dy="14.4">传染病流行或蔓延等严重后果的，按照《中华</tspan><tspan x="1824" dy="14.4">人民共和国传染病防治法》有关规定追究相关</tspan><tspan x="1824" dy="14.4">单位和人员的法律责任。</tspan></text>
</g>
<g id="node-p2">
<path class="box" d="M711 2798H943L950 2805V2852H711Z"/>
<text class="lb" x="718" y="2819">传染病防治工作计划2023年（篇2</text>
<text class="lb" x="718" y="2839">）</text>
<text x="458" y="2277">为贯彻落实中央、省、市传染病防控有关工作<tspan x="458" dy="14.4">部署，做好当前疫情防控各项工作，有力有序</tspan><tspan x="458" dy="14.4">推进体育赛事活动举办及公共体育场馆各项防</tspan><tspan x="458" dy="14.4">疫举措落细、落实到位，特制定本工作指引。</tspan></text>
<text x="458" y="2692">一、毫不松懈落实公共体育场馆开放的各项防<tspan x="458" dy="14.4">控措施</tspan></text>
<text class="e" x="421" y="2497">(一)内部管理防控</text>
<text x="77" y="2370">1.保持室内通风换气，室内体育场馆在条件允<tspan x="77" dy="14.4">许情况下首选自然通风，保证室内空气流通。</tspan></text>
<text x="77" y="2433">2.做好体育场地、器材器械、场馆服务台、电<tspan x="77" dy="14.4">梯、卫生间、通勤工具等公共区域及相关物品</tspan><tspan x="77" dy="14.4">的清洁消毒工作，对场馆中人员易接触的设施</tspan><tspan x="77" dy="14.4">和部位定时进行擦拭消毒。</tspan></text>
<text x="77" y="2524">3.认真做好垃圾分类，保持场馆环境整洁，垃<tspan x="77" dy="14.4">圾箱及时清理和消毒，增设废弃口罩回收专用</tspan><tspan x="77" dy="14.4">箱(桶)，规范垃圾收集处理。</tspan></text>
<text x="77" y="2603">4.加强应急值守，场馆重点岗位、门卫等要加<tspan x="77" dy="14.4">强人员配备，实施24小时值班制度，安排人</tspan><tspan x="77" dy="14.4">员加强巡查，确保发现问题能及时处理。</tspan></text>
<text class="e" x="421" y="2696">(二)工作人员管理防控</text>
<text x="54" y="2681">对场馆工作人员严格进行体温检测、健康码核<tspan x="54" dy="14.4">验(包括行程轨迹查验)、实名登记等措施，并</tspan><tspan x="54" dy="14.4">按要求做好个人防护。</tspan></text>
<text class="e" x="421" y="2902">(三)对外服务管理防控</text>
<text x="54" y="2759">1.在场馆醒目位置设立禁止人群集聚活动标识<tspan x="54" dy="14.4">牌，标识牌上公布当地疾病控制中心联系方式</tspan><tspan x="54" dy="14.4">，提醒参加运动人员遵守防控要求，注意个人</tspan><tspan x="54" dy="14.4">防护。</tspan></text>
<text x="54" y="2851">2.进入场馆人员要科学合理佩戴、规范使用口<tspan x="54" dy="14.4">罩。对进入场馆人员测体温、检查健康码(包</tspan><tspan x="54" dy="14.4">括查验行程轨迹)。</tspan></text>
<text x="54" y="2929">3.采取预约、限流等方式控制参加运动人员数<tspan x="54" dy="14.4">量，提倡分时段、间隔性和分散式锻炼，防止</tspan><tspan x="54" dy="14.4">人员过度聚集。</tspan></text>
<text x="54" y="3008">4.对进入人员一视同仁、实行无差别对待。不<tspan x="54" dy="14.4">以性别、国籍、种族等原因阻止任何人正常进</tspan><tspan x="54" dy="14.4">入(场地满员、需提前预约等管理原因除外)。</tspan></text>
<text class="e" x="681" y="3157">二、严格控制春节期间举办体育赛事活动</text>
<text x="220" y="3086">各部门要认真落实中办国办《关于做好20__<tspan x="220" dy="14.4">年元旦春节期间有关工作的通知》和省防控指</tspan><tspan x="220" dy="14.4">挥办疫情防控工作组《广东省多地发生本地传</tspan><tspan x="220" dy="14.4">染病疫情的应急处置工作方案(试行)》要求，</tspan><tspan x="220" dy="14.4">严格控制举办大型体育赛事活动，鼓励组织开</tspan><tspan x="220" dy="14.4">展线上体育赛事活动。对确有必要举办的体育</tspan><tspan x="220" dy="14.4">赛事活动，在经属地疫情防控部门和体育行政</tspan><tspan x="220" dy="14.4">部门批准后，按照“谁主办、谁承办、谁负责”</tspan><tspan x="220" dy="14.4">的原则，落实压缩规模、控制人数、佩戴口罩</tspan><tspan x="220" dy="14.4">、监测体温、查验健康码等防控措施，确保赛</tspan><tspan x="220" dy="14.4">事安全有序开展。</tspan></text>
<text class="e" x="681" y="3360">三、实施属地管理</text>
<text x="332" y="3279">体育场馆疫情防控实行属地管理。各县(市)区<tspan x="332" dy="14.4">协助市，各镇(街)协助各县(市)区文广旅体局</tspan><tspan x="332" dy="14.4">严格落实行业监管责任，主动公布联系方式、</tspan><tspan x="332" dy="14.4">承担属地体育场馆疫情防控相关行业管理事宜</tspan><tspan x="332" dy="14.4">;要认真组织检查，及时发现问题，切实督促</tspan><tspan x="332" dy="14.4">整改，并建立好工作台帐。</tspan></text>
<text x="332" y="3399">本指引由__市文广旅体局群众体育科负责解释<tspan x="332" dy="14.4">。</tspan></text>
</g>
<g id="node-p4">
<path class="box" d="M711 3848H943L950 3855V3902H711Z"/>
<text class="lb" x="718" y="3869">传染病防治工作计划2023年（篇4</text>
<text class="lb" x="718" y="3889">）</text>
<text class="e" x="681" y="3528">一、指导思想</text>
<text x="354" y="3464">为切实加强学校传染病防控工作，保障广大师<tspan x="354" dy="14.4">生的身体健康，按照《中华人民共和国传染病</tspan><tspan x="354" dy="14.4">防治法》、《学校卫生工作条例》、《突发公</tspan><tspan x="354" dy="14.4">共卫生事件应急条例》及县局有关文件精神，</tspan><tspan x="354" dy="14.4">认真做好传染病的防控工作，以科学的观点，</tspan><tspan x="354" dy="14.4">人本的意识，和谐的主题为中心，构建预防为</tspan><tspan x="354" dy="14.4">主，防治结合的管理和应急机制，切实做到对</tspan><tspan x="354" dy="14.4">传染病的早发现、早报告、早隔离、早治疗，</tspan><tspan x="354" dy="14.4">保证学校教育教学的正常开展，特制定本实施</tspan><tspan x="354" dy="14.4">方案。</tspan></text>
<text class="e" x="681" y="3716">二、组织领导</text>
<text class="e" x="577" y="3642">成立学校预防传染病工作领导小组：</text>
<text class="e" x="577" y="3691">组长：</text>
<text class="e" x="577" y="3740">副组长：</text>
<text class="e" x="577" y="3790">成员：</text>
<text class="e" x="681" y="4232">三、主要措施</text>
<text class="e" x="577" y="3861">1、严格落实责任</text>
<text x="233" y="3840">做好传染病的预防工作是事关广大师生生命安<tspan x="233" dy="14.4">全和社会稳定的大事。学校预防传染病工作领</tspan><tspan x="233" dy="14.4">导小组，明确分工，明确责任，各负其责，层</tspan><tspan x="233" dy="14.4">层把关，建全传染病报告网络。</tspan></text>
<text class="e" x="577" y="3997">2、加强宣传教育</text>
<text x="233" y="3931">春季、秋冬季是传染病高发季节，学校要通过<tspan x="233" dy="14.4">召开全体教师会议，传达上级文件要求和工作</tspan><tspan x="233" dy="14.4">部署，使广大教师从思想上认识到做好传染病</tspan><tspan x="233" dy="14.4">预防工作的重要性，积极投入到预防传染病的</tspan><tspan x="233" dy="14.4">工作中来；学校制作一期预防传染病宣传板报</tspan><tspan x="233" dy="14.4">、组织一次有关呼吸道疾病的健康讲座、按上</tspan><tspan x="233" dy="14.4">级部门的部署发放《致家长的一封信》，向家</tspan><tspan x="233" dy="14.4">长宣传传染病防控知识，取得家长的配合和支</tspan><tspan x="233" dy="14.4">持；各班每月开一次预防传染病主题班会、组</tspan><tspan x="233" dy="14.4">织学生做一刊学生手抄报或黑板报。</tspan></text>
<text class="e" x="577" y="4174">3、严格执行疫情报告制度</text>
<text x="188" y="4111">各校各班要严格执行晨检、午检制度。值周教<tspan x="188" dy="14.4">师负责疫情统计报告工作。班主任要详细学生</tspan><tspan x="188" dy="14.4">统计出勤情况，严格筛查学生缺课原因，通过</tspan><tspan x="188" dy="14.4">电话、家访等途径追查病因，并及时上报各类</tspan><tspan x="188" dy="14.4">传染病病例。尤其对于手足口病、水痘、腮腺</tspan><tspan x="188" dy="14.4">炎、诺如病毒等尤为关注。学生进校进班，班</tspan><tspan x="188" dy="14.4">主任首先要仔细观察学生精神状态，发现萎靡</tspan><tspan x="188" dy="14.4">、发热和皮肤异常情况的学生及时通知镇卫生</tspan><tspan x="188" dy="14.4">院进行筛查。一旦发现疫情，值周教师要立即</tspan><tspan x="188" dy="14.4">向学校汇报，学校要及时向卫生院报告。</tspan></text>
<text class="e" x="577" y="4310">4、加强培训，做好防控工作</text>
<text x="177" y="4289">以“学校传染病的防控”为主要内容，组织全体<tspan x="177" dy="14.4">教职工进行传染病知识的培训，了解传染病防</tspan><tspan x="177" dy="14.4">控相关知识，为晨检、午检的落实寻找科学依</tspan><tspan x="177" dy="14.4">据，共同做好传染病防控工作。</tspan></text>
<text class="e" x="577" y="4602">5、构筑预防屏障</text>
<text x="233" y="4382">（1）大力开展爱国卫生运动。结合传染病预<tspan x="233" dy="14.4">防重点工作，及时清整校园死角，清除蚊蝇滋</tspan><tspan x="233" dy="14.4">生地，清除园林绿地、闲置空地、垃圾杂物，</tspan><tspan x="233" dy="14.4">彻底消灭卫生死角。</tspan></text>
<text x="233" y="4474">（2）各班每天要开窗通风，让教室有足够的<tspan x="233" dy="14.4">新鲜空气。是预防呼吸道传染病的有效方法。</tspan></text>
<text x="233" y="4538">（3）鼓励学生多到室外活动，增强学生体质<tspan x="233" dy="14.4">，加强免疫力。</tspan></text>
<text x="233" y="4602">（4）隔离传染源。严格按照《传染病法》规<tspan x="233" dy="14.4">定的隔离期实施病员规范隔离。复课时要有卫</tspan><tspan x="233" dy="14.4">生部门开据的病愈证明方可进校上课。水痘隔</tspan><tspan x="233" dy="14.4">离14天，并结痂完全脱落，腮腺炎从发病至</tspan><tspan x="233" dy="14.4">少10天，并腮腺肿大完全消失。</tspan></text>
<text x="233" y="4709">（5）养成勤洗手的好习惯，教育并督促学生<tspan x="233" dy="14.4">用肥皂和流水洗手。可用淡盐水漱口，清洗鼻</tspan><tspan x="233" dy="14.4">腔，不用公用毛巾及手帕。</tspan></text>
<text x="233" y="4787">（6）班级内每天进行消毒，班主任管理消毒<tspan x="233" dy="14.4">器材。消毒内容为在班级内喷洒稀释过的84</tspan><tspan x="233" dy="14.4">消毒液。</tspan></text>
</g>
<g id="watermark">
<text class="wm" transform="translate(335,690) rotate(-29)">树图 shutu.cn</text>
<text class="wm" transform="translate(1630,690) rotate(-29)">树图 shutu.cn</text>
<text class="wm" transform="translate(335,1690) rotate(-29)">树图 shutu.cn</text>
<text class="wm" transform="translate(1630,1690) rotate(-29)">树图 shutu.cn</text>
<text class="wm" transform="translate(335,2690) rotate(-29)">树图 shutu.cn</text>
<text class="wm" transform="translate(1630,2690) rotate(-29)">树图 shutu.cn</text>
<text class="wm" transform="translate(335,3690) rotate(-29)">树图 shutu.cn</text>
<text class="wm" transform="translate(1630,3690) rotate(-29)">树图 shutu.cn</text>
<text class="wm" transform="translate(335,4690) rotate(-29)">树图 shutu.cn</text>
<text class="wm" transform="translate(1630,4690) rotate(-29)">树图 shutu.cn</text>
<text class="wm" transform="translate(335,5690) rotate(-29)">树图 shutu.cn</text>
<text class="wm" transform="translate(1630,5690) rotate(-29)">树图 shutu.cn</text>
<text class="wm" transform="translate(335,6690) rotate(-29)">树图 shutu.cn</text>
<text class="wm" transform="translate(1630,6690) rotate(-29)">树图 shutu.cn</text>
<text class="wm" transform="translate(335,7690) rotate(-29)">树图 shutu.cn</text>
<text class="wm" transform="translate(1630,7690) rotate(-29)">树图 shutu.cn</text>
</g>
</g>
</svg>
